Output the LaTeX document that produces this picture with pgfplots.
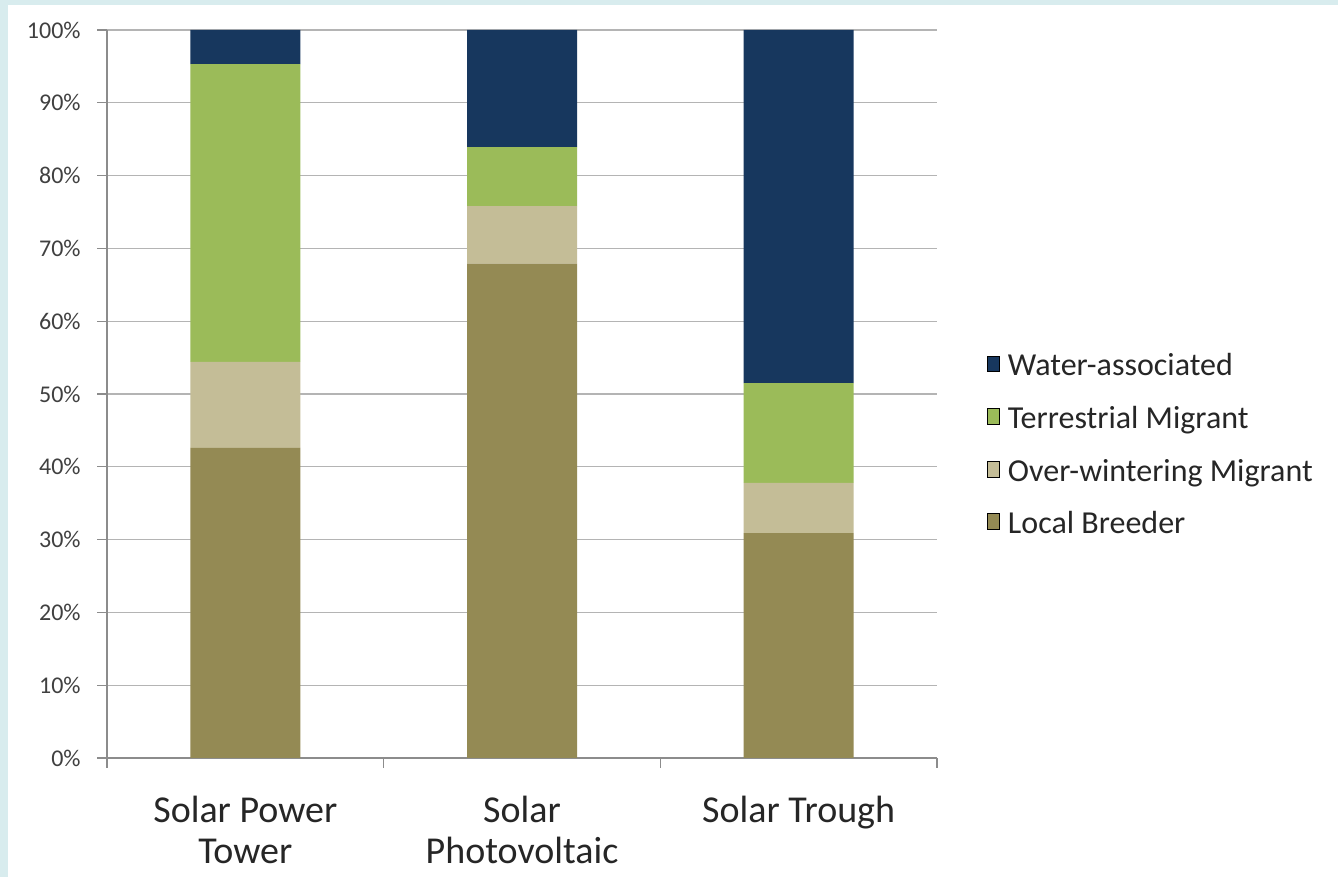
\documentclass[border=0pt]{standalone}
\usepackage{fontspec}
\setmainfont{Carlito}
\usepackage{pgfplots}
\pgfplotsset{compat=1.18}
\definecolor{cWater}{HTML}{17375E}
\definecolor{cTerr}{HTML}{9BBB59}
\definecolor{cOver}{HTML}{C4BD97}
\definecolor{cLocal}{HTML}{948A54}
\definecolor{cFrame}{HTML}{D8ECEE}
\definecolor{cGrid}{HTML}{B4B4B4}
\definecolor{cAxis}{HTML}{8C8C8C}
\pgfplotsset{/pgfplots/ybar legend/.style={/pgfplots/legend image code/.code={\path[##1,draw=none] (0bp,-3.5bp) rectangle (7bp,3.5bp);}}}
\begin{document}
\begin{tikzpicture}[x=1bp,y=1bp]
\path[use as bounding box] (0,0) rectangle (669,438.5);
\fill[cFrame] (0,0) rectangle (669,438.5);
\fill[white] (4,0) rectangle (669,436);
\begin{axis}[
  at={(53.5bp,59.5bp)}, anchor=south west,
  width=415bp, height=364bp, scale only axis,
  ybar stacked, bar width=55bp,
  xmin=-0.5, xmax=2.5, ymin=0, ymax=100,
  axis x line*=bottom, axis y line*=left,
  axis line style={cAxis, line width=0.6bp},
  xtick={0,1,2},
  xticklabels={Solar Power\\Tower, Solar\\Photovoltaic, Solar Trough},
  minor xtick={-0.5,0.5,1.5,2.5},
  major x tick style={draw=none},
  minor x tick style={cAxis, line width=0.6bp},
  minor tick length=5bp,
  ytick={0,10,...,100},
  yticklabels={0\%,10\%,20\%,30\%,40\%,50\%,60\%,70\%,80\%,90\%,100\%},
  major y tick style={cAxis, line width=0.6bp},
  major tick length=5bp,
  tick align=outside,
  ymajorgrids, grid style={cGrid, line width=0.6bp},
  xticklabel style={font=\fontsize{19bp}{20.5bp}\selectfont, align=center, anchor=north, inner sep=0pt, yshift=-14bp, text=black!85},
  yticklabel style={font=\fontsize{12bp}{14bp}\selectfont, anchor=east, inner sep=0pt, xshift=-8bp, text=black!75},
  legend style={draw=none, fill=none, inner sep=0pt, at={(axis description cs:1.06,0.4275)}, anchor=west,
    font=\fontsize{16bp}{18bp}\selectfont, text=black!85,
    nodes={inner sep=0pt, text height=12bp, text depth=4bp},
    row sep=10.3bp,
    /tikz/every odd column/.append style={column sep=4bp}},
  legend cell align=left,
  reverse legend,
]
\addplot[fill=cLocal, draw=none] coordinates {(0,42.6) (1,67.9) (2,30.9)};
\addplot[fill=cOver, draw=none] coordinates {(0,11.8) (1,7.9) (2,6.9)};
\addplot[fill=cTerr, draw=none] coordinates {(0,40.9) (1,8.1) (2,13.7)};
\addplot[fill=cWater, draw=none] coordinates {(0,4.7) (1,16.1) (2,48.5)};
\legend{Local Breeder, Over-wintering Migrant, Terrestrial Migrant, Water-associated}
\end{axis}
\end{tikzpicture}
\end{document}
